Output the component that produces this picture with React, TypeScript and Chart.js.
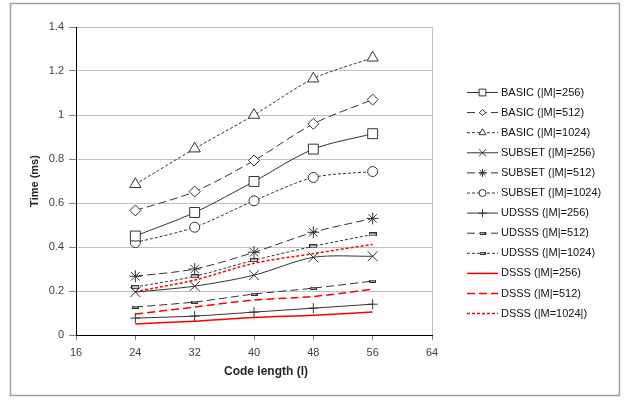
import React, { useEffect, useRef } from 'react';
import { Chart, registerables } from 'chart.js';
import { drawPoint } from 'chart.js/helpers';

Chart.register(...registerables);

// Code length l on the x axis
const codeLengths = [24, 32, 40, 48, 56];
const xTickValues = [16, 24, 32, 40, 48, 56, 64];
const yTickLabels = ['0', '0.2', '0.4', '0.6', '0.8', '1', '1.2', '1.4'];

// Time (ms) per scheme and dictionary size |M|
const basic256 = [0.45, 0.557, 0.698, 0.845, 0.915];
const basic512 = [0.566, 0.652, 0.793, 0.96, 1.07];
const basic1024 = [0.685, 0.847, 1.0, 1.165, 1.26];
const subset256 = [0.195, 0.222, 0.272, 0.353, 0.358];
const subset512 = [0.267, 0.3, 0.376, 0.467, 0.53];
const subset1024 = [0.42, 0.49, 0.61, 0.716, 0.743];
const udsss256 = [0.077, 0.086, 0.104, 0.122, 0.14];
const udsss512 = [0.127, 0.15, 0.186, 0.213, 0.245];
const udsss1024 = [0.218, 0.267, 0.34, 0.403, 0.457];
const dsss256 = [0.05, 0.063, 0.08, 0.09, 0.104];
const dsss512 = [0.095, 0.127, 0.159, 0.175, 0.208];
const dsss1024 = [0.197, 0.25, 0.326, 0.37, 0.412];

const seriesLabels = [
  'BASIC (|M|=256)',
  'BASIC (|M|=512)',
  'BASIC (|M|=1024)',
  'SUBSET (|M|=256)',
  'SUBSET (|M|=512)',
  'SUBSET (|M|=1024)',
  'UDSSS (|M|=256)',
  'UDSSS (|M|=512)',
  'UDSSS (|M|=1024)',
  'DSSS (|M|=256)',
  'DSSS (|M|=512)',
  'DSSS (|M=1024|)',
];
const seriesValues = [
  basic256, basic512, basic1024,
  subset256, subset512, subset1024,
  udsss256, udsss512, udsss1024,
  dsss256, dsss512, dsss1024,
];

const INK = '#333333';
const RED = '#ff0000';
const SOLID: number[] = [];
const LONG = [8, 4];
const SHORT = [3, 2];

function dashMarker(w: number, h: number) {
  const c = document.createElement('canvas');
  c.width = w;
  c.height = h;
  const g = c.getContext('2d')!;
  g.fillStyle = INK;
  g.fillRect(0, 0, w, h);
  g.fillStyle = '#c8c8c8';
  g.fillRect(1, 1, w - 2, h - 2);
  return c;
}

export default function App() {
  const ref = useRef<HTMLCanvasElement>(null);

  useEffect(() => {
    document.body.style.margin = '0';
    const canvas = ref.current;
    if (!canvas) return;

    const dashBig = dashMarker(8, 4);
    const dashSmall = dashMarker(7, 3);
    const legendDash = dashMarker(6, 3);

    type Style = {
      color: string;
      dash: number[];
      width: number;
      point: any;
      radius: number;
      legendPoint: any;
      legendRadius: number;
    };
    const styles: Style[] = [
      { color: INK, dash: SOLID, width: 1, point: 'rect', radius: 7, legendPoint: 'rect', legendRadius: 4.8 },
      { color: INK, dash: LONG, width: 1, point: 'rectRot', radius: 5.5, legendPoint: 'rectRot', legendRadius: 3 },
      { color: INK, dash: SHORT, width: 1, point: 'triangle', radius: 6.5, legendPoint: 'triangle', legendRadius: 4 },
      { color: INK, dash: SOLID, width: 1, point: 'crossRot', radius: 7, legendPoint: 'crossRot', legendRadius: 5 },
      { color: INK, dash: LONG, width: 1, point: 'star', radius: 6, legendPoint: 'star', legendRadius: 4 },
      { color: INK, dash: SHORT, width: 1, point: 'circle', radius: 5, legendPoint: 'circle', legendRadius: 3.5 },
      { color: INK, dash: SOLID, width: 1, point: 'cross', radius: 5, legendPoint: 'cross', legendRadius: 4 },
      { color: INK, dash: LONG, width: 1, point: dashSmall, radius: 4, legendPoint: legendDash, legendRadius: 3 },
      { color: INK, dash: SHORT, width: 1, point: dashBig, radius: 4, legendPoint: legendDash, legendRadius: 3 },
      { color: RED, dash: SOLID, width: 1.5, point: false, radius: 0, legendPoint: null, legendRadius: 0 },
      { color: RED, dash: LONG, width: 1.5, point: false, radius: 0, legendPoint: null, legendRadius: 0 },
      { color: RED, dash: SHORT, width: 1.5, point: false, radius: 0, legendPoint: null, legendRadius: 0 },
    ];

    const datasets = seriesValues.map((vals, i) => {
      const s = styles[i];
      return {
        label: seriesLabels[i],
        data: vals.map((v, k) => ({ x: codeLengths[k], y: v })),
        borderColor: s.color,
        borderWidth: s.width,
        borderDash: s.dash,
        tension: 0.3,
        pointStyle: s.point,
        pointRadius: s.radius,
        pointBorderColor: s.color,
        pointBackgroundColor: '#ffffff',
        pointBorderWidth: 1,
      };
    });

    const framePlugin = {
      id: 'frame',
      beforeDraw(chart: any) {
        const ctx = chart.ctx;
        ctx.save();
        ctx.fillStyle = '#ffffff';
        ctx.fillRect(0, 0, chart.width, chart.height);
        ctx.strokeStyle = '#a0a0a0';
        ctx.lineWidth = 1.5;
        ctx.strokeRect(10.5, 3.5, 609, 392);
        ctx.restore();
      },
      afterDraw(chart: any) {
        const ctx = chart.ctx;
        const a = chart.chartArea;
        ctx.save();
        // right edge of the plot area
        ctx.strokeStyle = '#c0c0c0';
        ctx.lineWidth = 1;
        ctx.beginPath();
        ctx.moveTo(Math.round(a.right) + 0.5, a.top);
        ctx.lineTo(Math.round(a.right) + 0.5, a.bottom);
        ctx.stroke();

        // axis titles
        ctx.fillStyle = '#262626';
        ctx.textAlign = 'center';
        ctx.textBaseline = 'middle';
        ctx.font = 'bold 12px "Liberation Sans", Arial, sans-serif';
        ctx.fillText('Code length (l)', 266, 372);
        ctx.save();
        ctx.translate(35, (a.top + a.bottom) / 2);
        ctx.rotate(-Math.PI / 2);
        ctx.font = 'bold 11px "Liberation Sans", Arial, sans-serif';
        ctx.fillText('Time (ms)', 0, 0);
        ctx.restore();

        // legend
        chart.data.datasets.forEach((ds: any, i: number) => {
          const s = styles[i];
          const y = 92.5 + i * 20.1;
          ctx.save();
          ctx.strokeStyle = s.color;
          ctx.lineWidth = s.width;
          ctx.setLineDash(s.dash);
          ctx.beginPath();
          ctx.moveTo(467, y);
          ctx.lineTo(498, y);
          ctx.stroke();
          ctx.setLineDash([]);
          if (s.legendPoint) {
            ctx.fillStyle = '#ffffff';
            ctx.strokeStyle = s.color;
            ctx.lineWidth = 1;
            drawPoint(ctx, { pointStyle: s.legendPoint, radius: s.legendRadius, borderWidth: 1, rotation: 0 } as any, 482.5, y);
          }
          ctx.fillStyle = '#111111';
          ctx.textAlign = 'left';
          ctx.textBaseline = 'middle';
          ctx.font = '11px "Liberation Sans", Arial, sans-serif';
          ctx.fillText(ds.label, 501, y);
          ctx.restore();
        });
        ctx.restore();
      },
    };

    const tickFont = { family: '"Liberation Sans", Arial, sans-serif', size: 11 };

    const chart = new Chart(canvas, {
      type: 'line',
      data: { datasets: datasets as any },
      options: {
        animation: false,
        responsive: false,
        layout: { padding: { left: 0, top: 27, right: 192, bottom: 0 } },
        plugins: { legend: { display: false }, title: { display: false }, tooltip: { enabled: false } },
        scales: {
          x: {
            type: 'linear',
            min: 16,
            max: 64,
            afterBuildTicks(scale: any) {
              scale.ticks = xTickValues.map((v) => ({ value: v }));
            },
            afterFit(scale: any) {
              scale.height = 401 - 335;
            },
            ticks: { color: '#404040', font: tickFont, padding: 6, maxRotation: 0 },
            grid: { drawOnChartArea: false, tickLength: 5, tickColor: '#808080' },
            border: { color: '#000000', width: 1 },
          },
          y: {
            type: 'linear',
            min: 0,
            max: 1.4,
            ticks: {
              stepSize: 0.2,
              color: '#404040',
              font: tickFont,
              padding: 5,
              callback: (v: any) => yTickLabels[Math.round(Number(v) / 0.2)],
            },
            afterFit(scale: any) {
              scale.width = 76;
            },
            grid: { color: '#c0c0c0', tickLength: 7, tickColor: '#808080' },
            border: { color: '#000000', width: 1 },
          },
        },
      },
      plugins: [framePlugin],
    });

    return () => chart.destroy();
  }, []);

  return (
    <div style={{ width: 624, height: 401 }}>
      <canvas ref={ref} width={624} height={401} style={{ width: 624, height: 401, display: 'block' }} />
    </div>
  );
}
